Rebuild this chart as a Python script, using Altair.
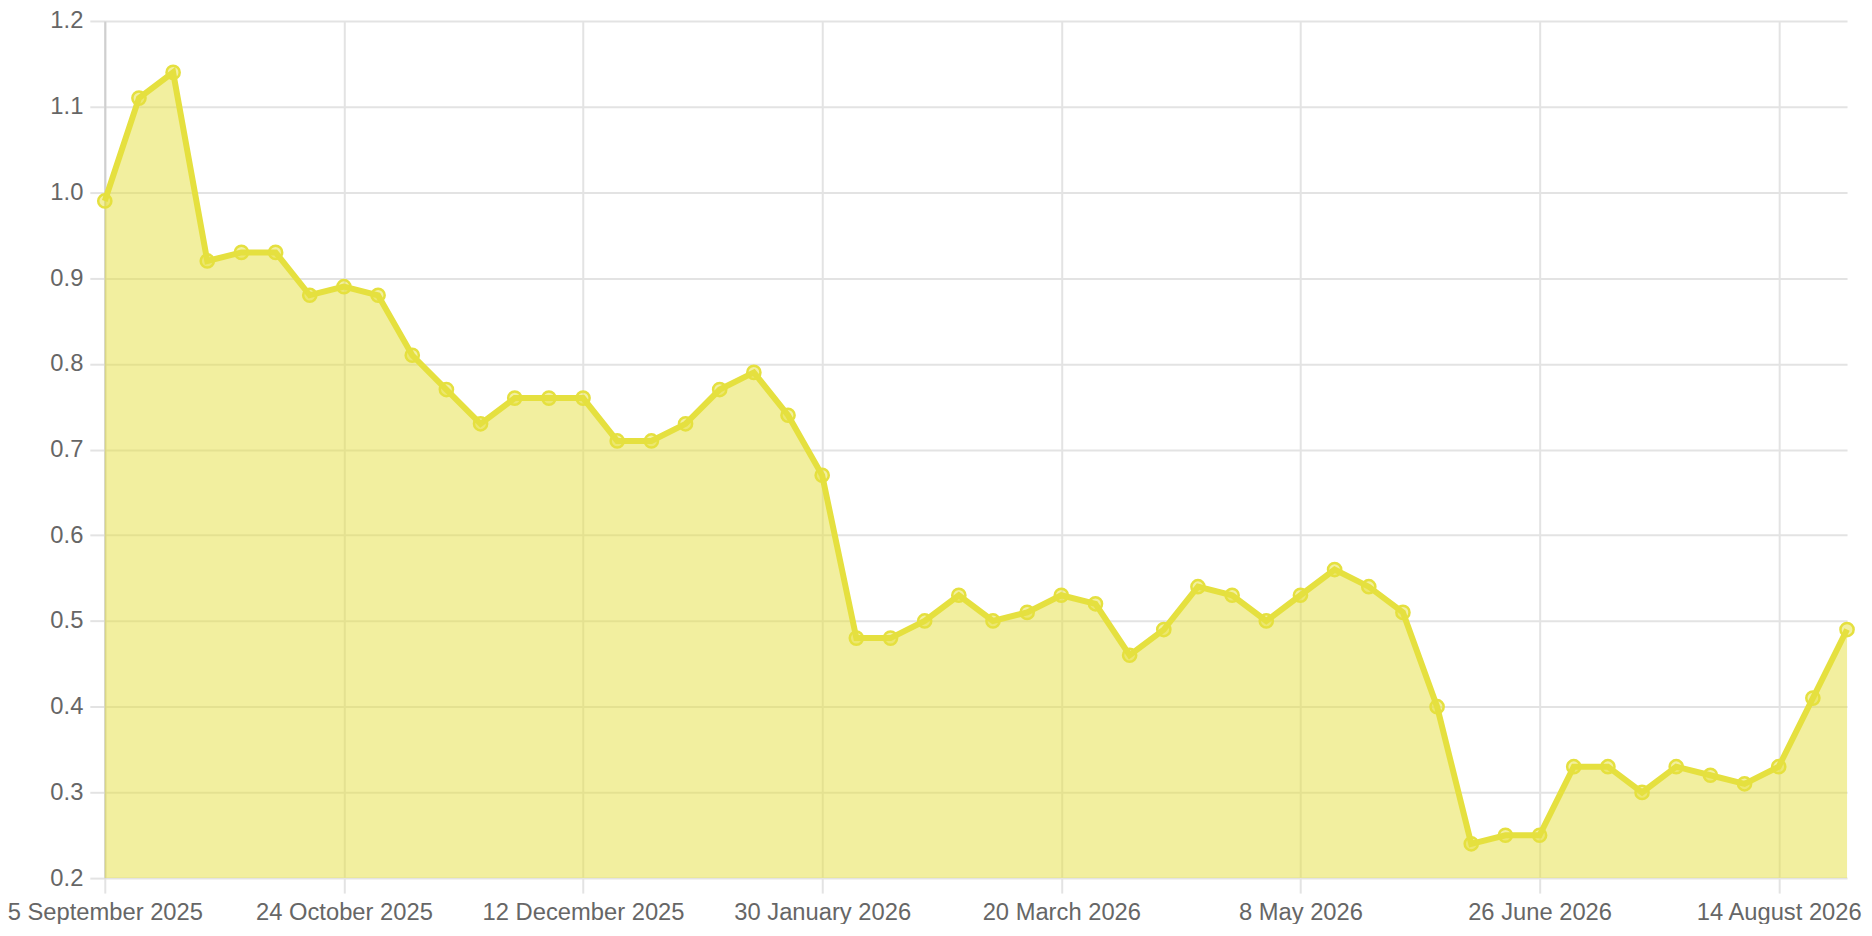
import altair as alt
import pandas as pd

dates = [
    "2025-09-05", "2025-09-12", "2025-09-19", "2025-09-26", "2025-10-03", "2025-10-10",
    "2025-10-17", "2025-10-24", "2025-10-31", "2025-11-07", "2025-11-14", "2025-11-21",
    "2025-11-28", "2025-12-05", "2025-12-12", "2025-12-19", "2025-12-26", "2026-01-02",
    "2026-01-09", "2026-01-16", "2026-01-23", "2026-01-30", "2026-02-06", "2026-02-13",
    "2026-02-20", "2026-02-27", "2026-03-06", "2026-03-13", "2026-03-20", "2026-03-27",
    "2026-04-03", "2026-04-10", "2026-04-17", "2026-04-24", "2026-05-01", "2026-05-08",
    "2026-05-15", "2026-05-22", "2026-05-29", "2026-06-05", "2026-06-12", "2026-06-19",
    "2026-06-26", "2026-07-03", "2026-07-10", "2026-07-17", "2026-07-24", "2026-07-31",
    "2026-08-07", "2026-08-14", "2026-08-21", "2026-08-28",
]
values = [
    0.99, 1.11, 1.14, 0.92, 0.93, 0.93, 0.88, 0.89, 0.88, 0.81, 0.77, 0.73,
    0.76, 0.76, 0.76, 0.71, 0.71, 0.73, 0.77, 0.79, 0.74, 0.67, 0.48, 0.48,
    0.50, 0.53, 0.50, 0.51, 0.53, 0.52, 0.46, 0.49, 0.54, 0.53, 0.50, 0.53,
    0.56, 0.54, 0.51, 0.40, 0.24, 0.25, 0.25, 0.33, 0.33, 0.30, 0.33, 0.32,
    0.31, 0.33, 0.41, 0.49,
]
tick_dates = ["2025-09-05", "2025-10-24", "2025-12-12", "2026-01-30",
              "2026-03-20", "2026-05-08", "2026-06-26", "2026-08-14"]
y_ticks = [0.2, 0.3, 0.4, 0.5, 0.6, 0.7, 0.8, 0.9, 1.0, 1.1, 1.2]

df = pd.DataFrame({"date": dates, "value": values})

tick_dt = []
for d in tick_dates:
    y, m, dd = (int(p) for p in d.split("-"))
    tick_dt.append(alt.DateTime(year=y, month=m, date=dd, utc=True))

COLOR = "#e5e03f"
FONT = "Liberation Sans"
FS = 23.8

x = alt.X(
    "date:T",
    scale=alt.Scale(type="utc", nice=False),
    axis=alt.Axis(
        values=tick_dt,
        labelExpr="utcFormat(datum.value, '%-d %B %Y')",
        labelFlush=False,
        labelOverlap=False,
        labelLimit=0,
        title=None,
        domain=False,
        tickSize=15,
        tickWidth=2,
        tickColor="#e3e3e3",
        gridColor="#e3e3e3",
        gridWidth=2,
        labelPadding=7,
        labelColor="#666666",
        labelFont=FONT,
        labelFontSize=FS,
    ),
)
y = alt.Y(
    "value:Q",
    scale=alt.Scale(domain=[0.2, 1.2], zero=False, nice=False),
    axis=alt.Axis(
        values=y_ticks,
        format=".1f",
        title=None,
        domain=True,
        domainColor="#cfcfcf",
        domainWidth=2,
        tickSize=15,
        tickWidth=2,
        tickColor="#e3e3e3",
        gridColor="#e3e3e3",
        gridWidth=2,
        labelPadding=7,
        labelLimit=0,
        labelColor="#666666",
        labelFont=FONT,
        labelFontSize=FS,
    ),
)

base = alt.Chart(df)
area = base.mark_area(color=COLOR, opacity=0.5).encode(x=x, y=y, y2=alt.datum(0.2))
line = base.mark_line(color=COLOR, strokeWidth=6).encode(x=x, y=y)
pts = base.mark_point(
    shape="circle", filled=True, fill=COLOR, fillOpacity=0.5,
    stroke=COLOR, strokeWidth=2.5, strokeOpacity=1, size=175, opacity=1,
).encode(x=x, y=y)

chart = (
    alt.layer(area, line, pts)
    .properties(
        width=1746,
        height=859,
        autosize=alt.AutoSizeParams(type="none"),
        padding={"left": 97, "top": 12, "right": 17, "bottom": 45},
    )
    .configure_view(stroke=None)
)

chart.save("out.html", embed_options={"renderer": "svg", "actions": False})
